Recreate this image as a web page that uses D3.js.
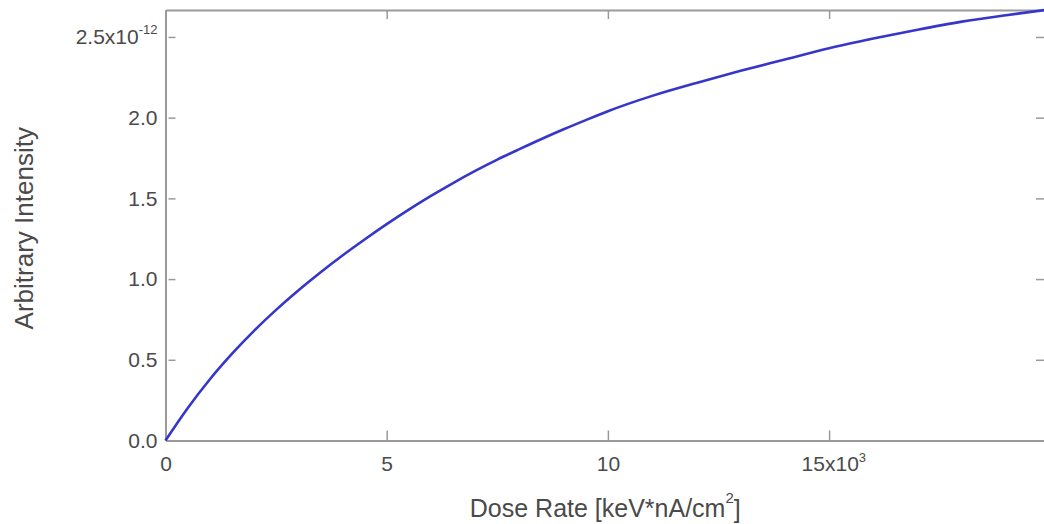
<!DOCTYPE html>
<html>
<head>
<meta charset="utf-8">
<script src="https://cdn.jsdelivr.net/npm/d3@7"></script>
<style>
  html, body { margin: 0; padding: 0; background: #fff; }
  svg { display: block; }
  text { font-family: "Liberation Sans", Arial, Helvetica, sans-serif; }
</style>
</head>
<body>
<script>
// ---- data (intensity in units of 1e-12, dose rate in keV*nA/cm^2) ----
const doseRate = [0, 500, 1000, 1500, 2000, 2500, 3000, 3500, 4000, 4500, 5000,
  5500, 6000, 6500, 7000, 7500, 8000, 8500, 9000, 9500, 10000,
  11000, 12000, 13000, 14000, 15000, 16000, 17000, 18000, 19000, 19880];
const intensity = [0, 0.20, 0.378, 0.536, 0.679, 0.809, 0.929, 1.041, 1.146, 1.245, 1.34,
  1.43, 1.515, 1.595, 1.67, 1.74, 1.805, 1.868, 1.928, 1.985, 2.04,
  2.135, 2.215, 2.29, 2.36, 2.43, 2.49, 2.545, 2.595, 2.635, 2.667];
const xTickValues = [0, 5000, 10000, 15000];
const xTickLabels = ["0", "5", "10", "15"];
const yTickValues = [0, 0.5, 1.0, 1.5, 2.0, 2.5];
const yTickLabels = ["0.0", "0.5", "1.0", "1.5", "2.0", "2.5"];
const xExponent = "3";
const yExponent = "-12";
const xTitle = "Dose Rate [keV*nA/cm";
const xTitleSup = "2";
const yTitle = "Arbitrary Intensity";

const W = 1044, H = 524;
const m = { left: 165.5, right: 1045, top: 10, bottom: 440.5 };

const svg = d3.select("body").append("svg").attr("width", W).attr("height", H);

const x = d3.scaleLinear().domain([0, d3.max(doseRate)]).range([m.left, m.right]);
const y = d3.scaleLinear().domain([0, d3.max(intensity)]).range([m.bottom, m.top]);

const axisColor = "#9a9a9a";
const textColor = "#4a4a4a";

function styleAxis(g) {
  g.select(".domain").attr("stroke", axisColor).attr("stroke-width", 2);
  g.selectAll(".tick line").attr("stroke", axisColor).attr("stroke-width", 1.5);
  g.selectAll(".tick text").attr("fill", textColor).attr("font-size", 21);
}

// bottom axis
const gx = svg.append("g").attr("transform", `translate(0,${m.bottom})`)
  .call(d3.axisBottom(x).tickValues(xTickValues)
    .tickFormat((d, i) => xTickLabels[i]).tickSizeInner(-10).tickSizeOuter(0).tickPadding(16));
styleAxis(gx);
gx.selectAll(".tick text").filter((d, i) => i === xTickLabels.length - 1)
  .each(function() {
    const t = d3.select(this);
    const base = t.text();
    t.text(null);
    t.append("tspan").text(base + "x10");
    t.append("tspan").attr("font-size", 13).attr("dy", "-0.75em").text(xExponent);
    t.attr("dx", "0.2em");
  });

// top mirror axis
const gxt = svg.append("g").attr("transform", `translate(0,${m.top})`)
  .call(d3.axisTop(x).tickValues(xTickValues).tickFormat("").tickSizeInner(-9).tickSizeOuter(0));
styleAxis(gxt);

// left axis
const gy = svg.append("g").attr("transform", `translate(${m.left},0)`)
  .call(d3.axisLeft(y).tickValues(yTickValues)
    .tickFormat((d, i) => yTickLabels[i]).tickSizeInner(-10).tickSizeOuter(0).tickPadding(8));
styleAxis(gy);
gy.selectAll(".tick line").attr("x1", 3);
gy.selectAll(".tick text").filter((d, i) => i === yTickLabels.length - 1)
  .each(function() {
    const t = d3.select(this);
    const base = t.text();
    t.text(null);
    t.append("tspan").text(base + "x10");
    t.append("tspan").attr("font-size", 13).attr("dy", "-0.8em").text(yExponent);
  });

// right mirror axis
const gyr = svg.append("g").attr("transform", `translate(${m.right},0)`)
  .call(d3.axisRight(y).tickValues(yTickValues).tickFormat("").tickSizeInner(-9).tickSizeOuter(0));
styleAxis(gyr);

// curve
const line = d3.line()
  .x((d, i) => x(doseRate[i]))
  .y((d, i) => y(intensity[i]))
  .curve(d3.curveMonotoneX);
svg.append("path")
  .datum(intensity)
  .attr("d", line)
  .attr("fill", "none")
  .attr("stroke", "#3636ca")
  .attr("stroke-width", 2.6);

// axis titles
const xt = svg.append("text")
  .attr("x", (m.left + m.right) / 2)
  .attr("y", 517)
  .attr("text-anchor", "middle")
  .attr("fill", textColor)
  .attr("font-size", 25);
xt.append("tspan").text(xTitle);
xt.append("tspan").attr("font-size", 15).attr("dy", "-0.95em").text(xTitleSup);
xt.append("tspan").attr("dy", "0.6em").text("]");

svg.append("text")
  .attr("transform", `translate(33,${(m.top + m.bottom) / 2 + 3}) rotate(-90)`)
  .attr("text-anchor", "middle")
  .attr("fill", textColor)
  .attr("font-size", 26)
  .text(yTitle);
</script>
</body>
</html>
